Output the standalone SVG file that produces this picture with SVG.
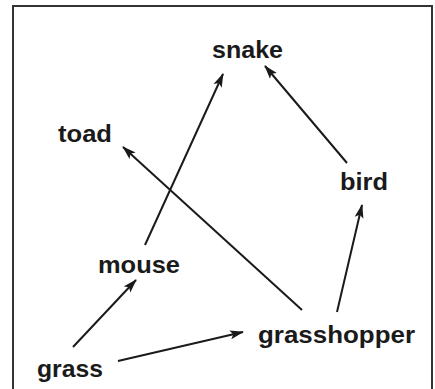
<svg xmlns="http://www.w3.org/2000/svg" width="435" height="389" viewBox="0 0 435 389">
<style>
.lbl{font-family:"Liberation Sans",Arial,sans-serif;font-weight:bold;font-size:24px;fill:#1a1a1a}
.edge{stroke:#1a1a1a;stroke-width:2;fill:none;marker-end:url(#ah)}
</style>
<defs>
<marker id="ah" markerWidth="14" markerHeight="10" refX="13" refY="5" orient="auto" markerUnits="userSpaceOnUse">
<path d="M0,0.5 L14,5 L0,9.5 L3,5 Z" fill="#1a1a1a"/>
</marker>
</defs>
<rect width="435" height="389" fill="#fff"/>
<path d="M13,395 V6 H432 V395" fill="none" stroke="#333" stroke-width="2"/>
<g id="connectors">
<line class="edge" x1="145" y1="245" x2="223" y2="74"/>
<line class="edge" x1="347" y1="163" x2="265" y2="66"/>
<line class="edge" x1="302" y1="310" x2="123" y2="147"/>
<line class="edge" x1="337" y1="312" x2="362" y2="205"/>
<line class="edge" x1="73" y1="347" x2="136" y2="280"/>
<line class="edge" x1="118" y1="361" x2="243" y2="332"/>
</g>
<g id="snake"><text class="lbl" x="212" y="58" textLength="71" lengthAdjust="spacingAndGlyphs">snake</text></g>
<g id="toad"><text class="lbl" x="58" y="142" textLength="54" lengthAdjust="spacingAndGlyphs">toad</text></g>
<g id="bird"><text class="lbl" x="340" y="190" textLength="48" lengthAdjust="spacingAndGlyphs">bird</text></g>
<g id="mouse"><text class="lbl" x="98" y="273" textLength="82" lengthAdjust="spacingAndGlyphs">mouse</text></g>
<g id="grasshopper"><text class="lbl" x="258" y="343" textLength="157" lengthAdjust="spacingAndGlyphs">grasshopper</text></g>
<g id="grass"><text class="lbl" x="37" y="377" textLength="66" lengthAdjust="spacingAndGlyphs">grass</text></g>
</svg>
